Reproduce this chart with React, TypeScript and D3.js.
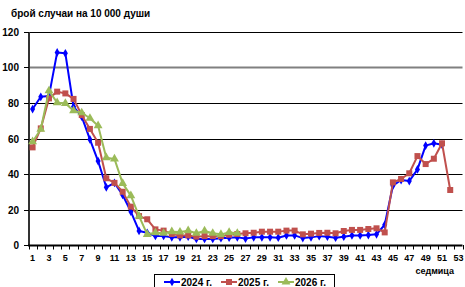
import React, { useEffect, useRef } from "react";
import * as d3 from "d3";

// weekly incidence per 10 000 people
const weeks = d3.range(1, 54);
const weekLabels = weeks.filter((w) => w % 2 === 1);
const yTicks = [0, 20, 40, 60, 80, 100, 120];

const values2024 = [
  76.6, 83.5, 84, 108.5, 108, 77.9, 72.3, 59.5, 47.3, 32.5, 35, 28.2, 18.8,
  7.9, 6.9, 5.1, 5.1, 4.3, 4.3, 4.7, 3.4, 3.4, 3.4, 3.8, 4.1, 4.3, 3.6, 4.3,
  4.3, 4.3, 4.1, 5.4, 5.4, 3.9, 4.3, 5, 4.7, 4.1, 4.7, 5.4, 5.4, 5.6, 6, 11.4,
  33.4, 36.6, 36, 42.6, 56, 57.3, 56.5,
];
const values2025 = [
  55, 65.7, 82.6, 86.4, 85.4, 82.3, 73.2, 65.4, 57.6, 37.6, 35, 30, 21.6,
  16.3, 14.5, 8.8, 8.1, 6.2, 5.4, 5.4, 4.7, 5, 5, 5, 5.8, 6.2, 6.6, 6.9, 7.5,
  7.5, 7.5, 8.1, 8.1, 6, 6.4, 6.8, 6.9, 6.6, 7.9, 8.5, 8.5, 9, 9.4, 7.1, 35.3,
  37.2, 40.4, 50.1, 45.6, 48.6, 57.3, 31,
];
const values2026 = [
  58.2, 65.2, 86.9, 80.2, 79.8, 75.7, 74.5, 71.4, 67.2, 49.2, 48.5, 34.7,
  27.8, 16.3, 6, 6.9, 6.6, 7.5, 7.3, 8.1, 6.6, 7.9, 6.6, 6, 7.1, 6.6,
];

const seriesNames = ["2024 г.", "2025 г.", "2026 г."];
const seriesColors = ["#0000ff", "#c0504d", "#9bbb59"];
const seriesSymbols = [d3.symbolDiamond, d3.symbolSquare, d3.symbolTriangle];
const seriesSizes = [22, 36, 34];

const font = "'Liberation Sans', Arial, sans-serif";

export default function App() {
  const svgRef = useRef<SVGSVGElement>(null);

  useEffect(() => {
    const width = 465;
    const height = 287;
    const plot = { left: 28.5, right: 462.5, top: 32, bottom: 245 };

    const svg = d3.select(svgRef.current);
    svg.selectAll("*").remove();
    svg.attr("width", width).attr("height", height);

    svg.append("rect").attr("width", width).attr("height", height).attr("fill", "#fff");

    const x = d3
      .scalePoint<number>()
      .domain(weeks)
      .range([plot.left, plot.right])
      .padding(0.5);
    const step = x.step();
    const y = d3.scaleLinear().domain([0, 120]).range([plot.bottom, plot.top]);

    // Gridlines
    yTicks
      .filter((t) => t > 0)
      .forEach((t) => {
        const yy = Math.round(y(t)) + 0.5;
        svg
          .append("line")
          .attr("x1", plot.left)
          .attr("x2", plot.right)
          .attr("y1", yy)
          .attr("y2", yy)
          .attr("stroke", t === 100 ? "#808080" : "#000")
          .attr("stroke-width", t === 100 ? 2 : 1);
      });

    // Y axis
    const yAxis = svg.append("g");
    yAxis
      .append("line")
      .attr("x1", 29)
      .attr("x2", 29)
      .attr("y1", plot.top)
      .attr("y2", plot.bottom + 1)
      .attr("stroke", "#333")
      .attr("stroke-width", 2);
    yTicks.forEach((t) => {
      const yy = Math.round(y(t)) + 0.5;
      yAxis
        .append("line")
        .attr("x1", 24)
        .attr("x2", 29)
        .attr("y1", yy)
        .attr("y2", yy)
        .attr("stroke", "#000");
      yAxis
        .append("text")
        .attr("x", 19)
        .attr("y", yy + 3.5)
        .attr("text-anchor", "end")
        .style("font-family", font)
        .style("font-weight", "bold")
        .style("font-size", "10px")
        .text(t);
    });

    // X axis
    const xAxis = svg.append("g");
    xAxis
      .append("line")
      .attr("x1", 28)
      .attr("x2", plot.right)
      .attr("y1", plot.bottom + 0.5)
      .attr("y2", plot.bottom + 0.5)
      .attr("stroke", "#000")
      .attr("stroke-width", 2);
    d3.range(0, weeks.length + 1).forEach((i) => {
      const xx = Math.round(plot.left + i * step) + 0.5;
      xAxis
        .append("line")
        .attr("x1", xx)
        .attr("x2", xx)
        .attr("y1", plot.bottom)
        .attr("y2", plot.bottom + 4.5)
        .attr("stroke", "#000");
    });
    weekLabels.forEach((w) => {
      xAxis
        .append("text")
        .attr("x", x(w)!)
        .attr("y", 261)
        .attr("text-anchor", "middle")
        .style("font-family", font)
        .style("font-weight", "bold")
        .style("font-size", "9px")
        .text(w);
    });

    // Series
    const allSeries = [values2024, values2025, values2026];
    const line = d3
      .line<number>()
      .x((_, i) => x(weeks[i])!)
      .y((d) => y(d));

    allSeries.forEach((vals, s) => {
      svg
        .append("path")
        .datum(vals)
        .attr("d", line)
        .attr("fill", "none")
        .attr("stroke", seriesColors[s])
        .attr("stroke-width", 2)
        .attr("stroke-linejoin", "round");
      svg
        .append("g")
        .selectAll("path")
        .data(vals)
        .join("path")
        .attr("transform", (d, i) => `translate(${x(weeks[i])},${y(d)})`)
        .attr("d", d3.symbol().type(seriesSymbols[s]).size(seriesSizes[s])())
        .attr("fill", seriesColors[s]);
    });

    // Title and axis name
    svg
      .append("text")
      .attr("x", 11)
      .attr("y", 17)
      .style("font-family", font)
      .style("font-weight", "bold")
      .style("font-size", "10px")
      .text("брой случаи на 10 000 души");
    svg
      .append("text")
      .attr("x", 454)
      .attr("y", 273.5)
      .attr("text-anchor", "end")
      .style("font-family", font)
      .style("font-weight", "bold")
      .style("font-size", "9px")
      .text("седмица");

    // Legend
    const legend = svg.append("g");
    legend
      .append("rect")
      .attr("x", 154.5)
      .attr("y", 274.5)
      .attr("width", 180)
      .attr("height", 30)
      .attr("fill", "#fff")
      .attr("stroke", "#000");
    const legendX = [164, 221, 278];
    seriesNames.forEach((name, s) => {
      const lx = legendX[s];
      legend
        .append("line")
        .attr("x1", lx)
        .attr("x2", lx + 16)
        .attr("y1", 282)
        .attr("y2", 282)
        .attr("stroke", seriesColors[s])
        .attr("stroke-width", 2);
      legend
        .append("path")
        .attr("transform", `translate(${lx + 8},282)`)
        .attr("d", d3.symbol().type(seriesSymbols[s]).size(seriesSizes[s])())
        .attr("fill", seriesColors[s]);
      legend
        .append("text")
        .attr("x", lx + 17)
        .attr("y", 286)
        .style("font-family", font)
        .style("font-weight", "bold")
        .style("font-size", "10px")
        .text(name);
    });
  }, []);

  return (
    <svg
      ref={svgRef}
      style={{ position: "absolute", left: 0, top: 0, display: "block" }}
    ></svg>
  );
}
